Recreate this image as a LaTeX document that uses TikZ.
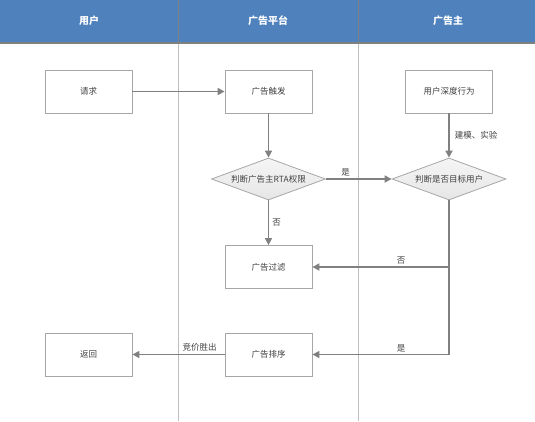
\documentclass[tikz,border=0pt]{standalone}
\usepackage{fontspec}
\setmainfont{Noto Sans CJK SC}
\usetikzlibrary{shapes.geometric,arrows.meta}
\definecolor{hdr}{HTML}{4F81BD}
\definecolor{conn}{HTML}{808080}
\definecolor{bord}{HTML}{A6A6A6}
\definecolor{lane}{HTML}{BFBFBF}
\definecolor{dfill}{HTML}{E6E6E6}
\definecolor{txt}{HTML}{404040}
\tikzset{
  x=1pt,y=-1pt,
  procbox/.style={draw=bord,line width=0.8pt,fill=white,minimum width=87pt,minimum height=43pt,inner sep=0pt,font=\fontsize{8.5}{10}\selectfont,text=txt},
  decide/.style={diamond,aspect=2.7,draw=bord,line width=0.8pt,top color=white!60!dfill,bottom color=dfill,minimum width=114pt,minimum height=42pt,inner sep=0pt,font=\fontsize{8.5}{10}\selectfont,text=txt},
  flow/.style={draw=conn,line width=1.6pt,-{Triangle[length=7pt,width=7pt]}},
  flowplain/.style={draw=conn,line width=1.6pt},
  lbl/.style={font=\fontsize{8.5}{10}\selectfont,text=txt,inner sep=1pt},
  hlbl/.style={font=\bfseries\fontsize{10}{11}\selectfont,text=white}
}
\begin{document}
\begin{tikzpicture}
\useasboundingbox (0,0) rectangle (535,421);
\fill[hdr] (0,0) rectangle (535,43);
\draw[lane,line width=1pt] (178,43) -- (178,421);
\draw[lane,line width=1pt] (358,43) -- (358,421);
\draw[conn,line width=0.8pt] (178,0) -- (178,43);
\draw[conn,line width=0.8pt] (358,0) -- (358,43);
\draw[conn,line width=1.2pt] (0,43) -- (535,43);
\node[hlbl] (h1) at (89,21) {用户};
\node[hlbl] (h2) at (268,21) {广告平台};
\node[hlbl] (h3) at (448,21) {广告主};

\node[procbox] (req) at (88.5,91.5) {请求};
\node[procbox] (trig) at (268.5,91.5) {广告触发};
\node[procbox] (deep) at (449,91.5) {用户深度行为};
\node[decide] (d1) at (268.5,179) {判断广告主RTA权限};
\node[decide] (d2) at (449,179) {判断是否目标用户};
\node[procbox] (filt) at (268.5,267) {广告过滤};
\node[procbox] (sort) at (268.5,354.5) {广告排序};
\node[procbox] (ret) at (88.5,354.5) {返回};

\coordinate (c1) at (449,267);
\coordinate (c2) at (449,354.5);

\draw[flow] (req) -- (trig);
\draw[flow] (trig) -- (d1);
\draw[flow] (d1) -- node[lbl,above,pos=0.3,yshift=1pt] {是} (d2);
\draw[flow] (deep) -- node[lbl,right,xshift=4pt] {建模、实验} (d2);
\draw[flow] (d1) -- node[lbl,right,xshift=2pt] {否} (filt);
\draw[flowplain] (d2.south) -- (c2);
\draw[flow] (c1) -- node[lbl,above,pos=0.35,yshift=1pt] {否} (filt);
\draw[flow] (c2) -- node[lbl,above,pos=0.35,yshift=1pt] {是} (sort);
\draw[flow] (sort) -- node[lbl,above,pos=0.27,yshift=1pt] {竞价胜出} (ret);
\end{tikzpicture}
\end{document}
